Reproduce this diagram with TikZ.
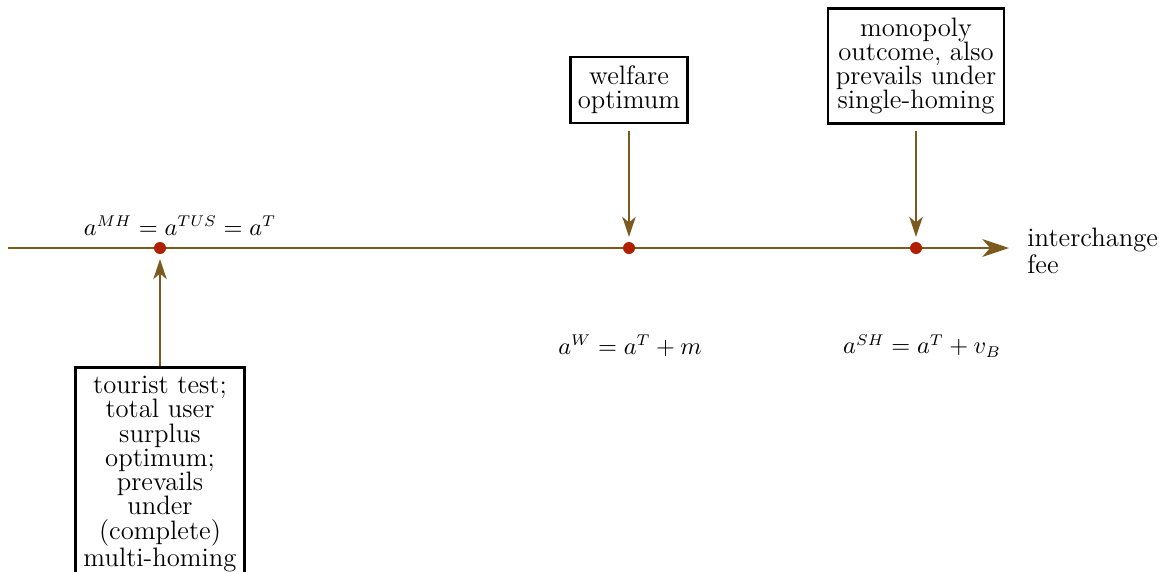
\documentclass[tikz,border=0pt]{standalone}
\usetikzlibrary{arrows.meta}
\definecolor{axisbrown}{RGB}{122,90,30}
\definecolor{dotred}{RGB}{176,32,0}
\tikzset{
  infobox/.style={draw, line width=1.3pt, align=center, inner xsep=3.5pt, inner ysep=4pt, font=\fontsize{12}{10.9}\selectfont},
  pointer/.style={axisbrown, line width=0.9pt, -{Stealth[length=9pt, width=6pt, inset=2.5pt]}},
  eqlabel/.style={font=\fontsize{10.5}{12}\selectfont}
}
\begin{document}
\begin{tikzpicture}[x=0.45pt, y=-0.45pt]
        \useasboundingbox (0,0) rectangle (1159,571);
        \clip (0,0) rectangle (1159,571);
        % Axis
        \coordinate (start) at (8,248);
        \coordinate (end) at (1009,248);
        \draw[axisbrown, line width=1.1pt, -{Stealth[length=12pt, width=8pt, inset=3.5pt]}] (start) -- (end);
        \node[anchor=west, align=left, inner sep=0pt, font=\fontsize{12}{10.9}\selectfont] (fee) at (1027,251) {interchange\\fee};
    
        % Points
        \fill[dotred] (160,248) circle (2.7pt) coordinate (MH);
        \fill[dotred] (629,248) circle (2.7pt) coordinate (W);
        \fill[dotred] (916,248) circle (2.7pt) coordinate (SH);
    
        % Labels
        \node[eqlabel] (lMH) at (180,226) {$a^{MH}=a^{TUS}=a^{T}$};
        \node[eqlabel] (lW) at (630,346) {$a^{W}=a^{T}+m$};
        \node[eqlabel] (lSH) at (922,346) {$a^{SH}=a^{T}+v_{B}$};
    
        % Boxes
        \node[infobox, anchor=north] (tt) at (160,366) {tourist test;\\total user\\surplus\\optimum;\\prevails\\under\\(complete)\\multi-homing};
        \node[infobox] (wo) at (629,90) {welfare\\optimum};
        \node[infobox] (mo) at (916,66) {monopoly\\outcome, also\\prevails under\\single-homing};
    
        % Arrows
        \draw[pointer] (tt.north) -- ([yshift=-5pt]MH);
        \draw[pointer, shorten <=3pt] (wo.south) -- ([yshift=5pt]W);
        \draw[pointer, shorten <=3pt] (mo.south) -- ([yshift=5pt]SH);
    \end{tikzpicture}
\end{document}
